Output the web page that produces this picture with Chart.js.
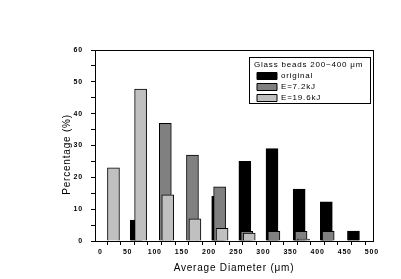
<!DOCTYPE html>
<html>
<head>
<meta charset="utf-8">
<script src="https://cdn.jsdelivr.net/npm/chart.js@4.4.0/dist/chart.umd.min.js"></script>
<style>
   html, body { margin: 0; padding: 0; background: #fff; }
   canvas { display: block; }
</style>
</head>
<body>
<canvas id="chart" width="401" height="279"></canvas>
<script>
// bin centres (um) and percentages per bin
const bins = [25, 75, 125, 175, 225, 275, 325, 375, 425, 475];
const original = [0, 6.6, 0, 0, 14, 25, 29, 16.3, 12.3, 3.1];
const e72 = [0, 0, 37, 27, 17, 3, 3, 3, 3, 0];
const e196 = [23, 47.7, 14.5, 7, 4, 2.5, 0, 0.6, 0, 0];

const xTicks = [0, 25, 50, 75, 100, 125, 150, 175, 200, 225, 250, 275, 300, 325, 350, 375, 400, 425, 450, 475, 500];
const yTicks = [0, 5, 10, 15, 20, 25, 30, 35, 40, 45, 50, 55, 60];

const font = "'Liberation Sans', Arial, sans-serif";
Chart.defaults.font.family = font;
Chart.defaults.color = '#000';

const points = (values, shift) => bins.map((b, i) => ({ x: b + shift, y: values[i] }));

const spacing = (chart) => {
   chart.ctx.letterSpacing = '0.8px';
};

const frame = {
   id: 'frame',
   beforeLayout: spacing,
   beforeDraw: spacing,
   afterLayout: (chart) => {
      const area = chart.chartArea;
      const lg = chart.legend;
      lg.left = area.right - 119;
      lg.right = lg.left + 115;
      lg.top = area.top + 11;
      lg.bottom = area.bottom;
   },
   afterDraw: (chart) => {
      const { ctx, chartArea: a } = chart;
      ctx.save();
      ctx.strokeStyle = '#000';
      ctx.lineWidth = 1;
      ctx.strokeRect(a.left + 0.5, a.top + 0.5, a.right - a.left, a.bottom - a.top);
      ctx.strokeRect(a.right - 123.5, a.top + 7.5, 121, 46);
      ctx.restore();
   },
};

const barStyle = { borderColor: '#000', borderWidth: 1, barThickness: 12, grouped: false };
const tickFont = { size: 7, weight: 'bold' };

new Chart(document.getElementById('chart'), {
   type: 'bar',
   data: {
      datasets: [
         { label: 'original', data: points(original, -9), backgroundColor: '#000000', order: 3, ...barStyle },
         { label: 'E=7.2kJ', data: points(e72, -5.5), backgroundColor: '#808080', order: 2, ...barStyle },
         { label: 'E=19.6kJ', data: points(e196, -1), backgroundColor: '#c0c0c0', order: 1, ...barStyle },
      ],
   },
   options: {
      responsive: false,
      animation: false,
      layout: { padding: { left: 56, right: 28, top: 50, bottom: 0 } },
      scales: {
         x: {
            type: 'linear',
            min: -10,
            max: 502,
            offset: false,
            afterBuildTicks: (s) => { s.ticks = xTicks.map(v => ({ value: v })); },
            afterFit: (s) => { s.height = 38; },
            grid: { drawOnChartArea: false, tickLength: 4, tickColor: '#000' },
            border: { color: '#000' },
            ticks: {
               autoSkip: false,
               maxRotation: 0,
               padding: 3,
               font: tickFont,
               callback: v => (v % 50 === 0 ? v : ''),
            },
            title: { display: true, text: 'Average Diameter (μm)', font: { size: 10 }, padding: { bottom: 5 } },
         },
         y: {
            min: 0,
            max: 60,
            afterBuildTicks: (s) => { s.ticks = yTicks.map(v => ({ value: v })); },
            afterFit: (s) => { s.width = 39; },
            grid: { drawOnChartArea: false, tickLength: 4, tickColor: '#000' },
            border: { color: '#000' },
            ticks: {
               autoSkip: false,
               padding: 8,
               font: tickFont,
               callback: v => (v % 10 === 0 ? v : ''),
            },
            title: { display: true, text: 'Percentage (%)     ', font: { size: 10 }, padding: { top: 5 } },
         },
      },
      plugins: {
         tooltip: { enabled: false },
         legend: {
            position: 'chartArea',
            align: 'start',
            title: {
               display: true,
               text: 'Glass beads 200~400 μm',
               position: 'start',
               padding: 0,
               font: { size: 8, lineHeight: 1 },
            },
            labels: {
               boxWidth: 20,
               boxHeight: 7,
               padding: 3,
               font: { size: 8 },
               sort: (a, b) => a.datasetIndex - b.datasetIndex,
            },
         },
      },
   },
   plugins: [frame],
});
</script>
</body>
</html>
